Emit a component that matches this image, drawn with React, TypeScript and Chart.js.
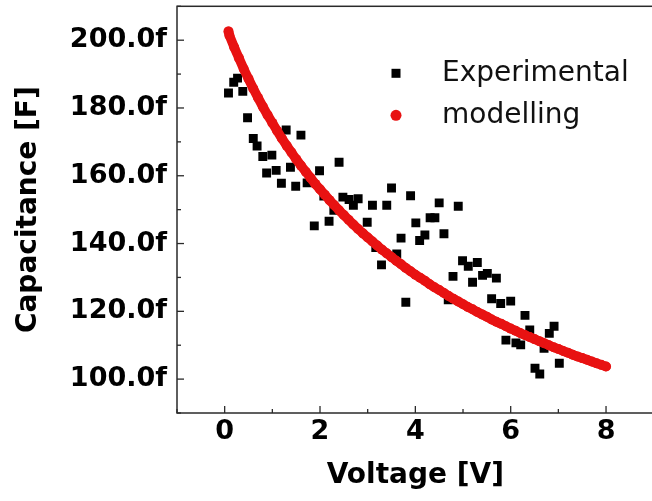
import React, { useEffect, useRef } from "react";
import { Chart, registerables } from "chart.js";

Chart.register(...registerables);

// Experimental data (Voltage [V], Capacitance [fF])
const expVoltage = [
  0.08, 0.19, 0.27, 0.38, 0.48, 0.6, 0.68, 0.8, 0.99, 0.88, 1.08, 1.19, 1.29, 1.38, 1.49, 1.6, 1.73,
  1.99, 1.88, 2.08, 2.19, 2.4, 2.48, 2.61, 2.7, 2.8, 2.29, 2.99, 3.1, 3.4, 3.5, 3.17, 3.29, 3.61,
  3.7, 3.8, 3.9, 4.01, 4.09, 4.2, 4.31, 4.41, 4.5, 4.6, 4.69, 4.79, 4.9, 4.99, 5.11, 5.3, 5.2, 5.41,
  5.51, 5.7, 5.6, 5.79, 6.0, 5.9, 6.11, 6.21, 6.3, 6.4, 6.51, 6.61, 6.7, 6.81, 6.91, 7.02,
];
const expCapacitance = [
  184.4, 187.6, 188.8, 184.9, 177.1, 171.0, 168.8, 165.7, 166.1, 160.8, 161.6, 157.8, 173.5, 162.5,
  156.9, 172.0, 157.9, 161.5, 145.2, 154.0, 146.6, 164.0, 153.7, 153.0, 151.3, 153.2, 149.8, 146.3,
  151.3, 151.3, 156.4, 138.8, 133.7, 136.9, 141.6, 122.7, 154.1, 146.1, 140.9, 142.5, 147.6, 147.6,
  152.0, 142.9, 123.4, 130.3, 151.0, 134.9, 133.3, 134.4, 128.6, 130.6, 131.2, 129.8, 123.7, 122.3,
  123.0, 111.5, 110.7, 110.1, 118.8, 114.5, 103.2, 101.5, 109.1, 113.5, 115.6, 104.7,
];

// Modelling curve
const modVoltage = [
  0.08, 0.1, 0.2, 0.3, 0.4, 0.5, 0.6, 0.7, 0.8, 0.9, 1.0, 1.1, 1.2, 1.3, 1.4, 1.5, 1.6, 1.7, 1.8, 1.9, 2.0,
  2.1, 2.2, 2.3, 2.4, 2.5, 2.6, 2.7, 2.8, 2.9, 3.0, 3.1, 3.2, 3.3, 3.4, 3.5, 3.6, 3.7, 3.8, 3.9, 4.0,
  4.1, 4.2, 4.3, 4.4, 4.5, 4.6, 4.7, 4.8, 4.9, 5.0, 5.1, 5.2, 5.3, 5.4, 5.5, 5.6, 5.7, 5.8, 5.9, 6.0,
  6.1, 6.2, 6.3, 6.4, 6.5, 6.6, 6.7, 6.8, 6.9, 7.0, 7.1, 7.2, 7.3, 7.4, 7.5, 7.6, 7.7, 7.8, 7.9, 8.0,
];
const modCapacitance = [
  202.6, 201.4, 197.9, 194.7, 191.5, 188.6, 185.7, 183.0, 180.4, 177.9, 175.6, 173.3, 171.0, 168.9, 166.9,
  164.9, 163.0, 161.2, 159.4, 157.6, 156.0, 154.4, 152.8, 151.3, 149.8, 148.4, 147.0, 145.6, 144.3,
  143.0, 141.8, 140.6, 139.4, 138.2, 137.1, 136.0, 134.9, 133.9, 132.8, 131.8, 130.8, 129.9, 129.0,
  128.0, 127.1, 126.3, 125.4, 124.5, 123.7, 122.9, 122.1, 121.3, 120.6, 119.8, 119.1, 118.4, 117.6,
  116.9, 116.3, 115.6, 114.9, 114.3, 113.6, 113.0, 112.4, 111.8, 111.2, 110.6, 110.0, 109.4, 108.9,
  108.3, 107.8, 107.2, 106.7, 106.2, 105.7, 105.2, 104.7, 104.2, 103.7,
];

const xMin = -1;
const xMax = 9;
const yMin = 90;
const yMax = 210;

const seriesLabels = ["Experimental", "modelling"];

const RED = "rgb(232,18,18)";
const AXIS = "#2a2a2a";

const framePlugin = {
  id: "frame",
  afterDatasetsDraw(chart: any) {
    const { ctx, chartArea, scales } = chart;
    const { left, right, top, bottom } = chartArea;
    ctx.save();
    ctx.strokeStyle = AXIS;
    ctx.lineWidth = 1.5;
    ctx.strokeRect(left, top, right - left, bottom - top);
    // inward ticks
    ctx.lineWidth = 1.3;
    const xs = scales.x;
    xs.ticks.forEach((t: any) => {
      const px = xs.getPixelForValue(t.value);
      const len = t.value % 2 === 0 ? 7 : 4;
      ctx.beginPath();
      ctx.moveTo(px, bottom);
      ctx.lineTo(px, bottom - len);
      ctx.stroke();
    });
    const ys = scales.y;
    ys.ticks.forEach((t: any) => {
      const py = ys.getPixelForValue(t.value);
      const len = t.value % 20 === 0 ? 7 : 4;
      ctx.beginPath();
      ctx.moveTo(left, py);
      ctx.lineTo(left + len, py);
      ctx.stroke();
    });
    // legend
    const lx = left + 219;
    const ly1 = top + 67;
    const ly2 = top + 109;
    ctx.fillStyle = "#000";
    ctx.fillRect(lx - 4.5, ly1 - 4.5, 9, 9);
    ctx.fillStyle = RED;
    ctx.beginPath();
    ctx.arc(lx, ly2, 5.5, 0, Math.PI * 2);
    ctx.fill();
    ctx.fillStyle = "#111";
    ctx.font = "28px 'DejaVu Sans'";
    ctx.textBaseline = "middle";
    ctx.textAlign = "left";
    const ds = chart.data.datasets;
    ctx.fillText(ds[0].label, lx + 46, ly1);
    ctx.fillText(ds[1].label, lx + 46, ly2);
    ctx.restore();
  },
};

export default function App() {
  const ref = useRef<HTMLCanvasElement | null>(null);

  useEffect(() => {
    if (!ref.current) return;
    const tickFont = { family: "'DejaVu Sans'", size: 27, weight: "bold" as const };
    const titleFont = { family: "'DejaVu Sans'", size: 28, weight: "bold" as const };
    const chart = new Chart(ref.current, {
      type: "scatter",
      data: {
        datasets: [
          {
            label: seriesLabels[0],
            data: expVoltage.map((v, i) => ({ x: v, y: expCapacitance[i] })),
            pointStyle: "rect",
            pointRadius: 6.3,
            backgroundColor: "#000",
            borderColor: "#000",
            borderWidth: 0,
            order: 2,
          },
          {
            label: seriesLabels[1],
            data: modVoltage.map((v, i) => ({ x: v, y: modCapacitance[i] })),
            showLine: true,
            borderWidth: 9.5,
            borderCapStyle: "round",
            borderJoinStyle: "round",
            pointStyle: "circle",
            pointRadius: 5,
            pointBorderWidth: 0,
            backgroundColor: RED,
            borderColor: RED,
            order: 1,
          },
        ],
      },
      options: {
        responsive: false,
        animation: false,
        devicePixelRatio: 1,
        layout: { padding: { left: 0, top: 4, right: 6, bottom: 0 } },
        plugins: {
          legend: { display: false },
          tooltip: { enabled: false },
        },
        scales: {
          x: {
            type: "linear",
            min: xMin,
            max: xMax,
            grid: { display: false, drawTicks: false },
            border: { display: false },
            ticks: {
              stepSize: 1,
              autoSkip: false,
              maxRotation: 0,
              padding: 3,
              color: "#000",
              font: tickFont,
              callback: (v: any) => (v % 2 === 0 && v >= 0 && v <= 8 ? String(v) : ""),
            },
            title: {
              display: true,
              text: "Voltage [V]",
              color: "#000",
              font: titleFont,
              padding: { top: 0, bottom: 8 },
            },
            afterFit: (s: any) => {
              s.height = 88;
              s.paddingLeft = 0;
              s.paddingRight = 0;
            },
          },
          y: {
            type: "linear",
            min: yMin,
            max: yMax,
            grid: { display: false, drawTicks: false },
            border: { display: false },
            ticks: {
              stepSize: 10,
              autoSkip: false,
              padding: 10,
              color: "#000",
              font: tickFont,
              callback: (v: any) => (v % 20 === 0 ? v.toFixed(1) + "f" : ""),
            },
            title: {
              display: true,
              text: "Capacitance [F]",
              color: "#000",
              font: titleFont,
              padding: { top: 12, bottom: 0 },
            },
            afterFit: (s: any) => {
              s.width = 177;
              s.paddingTop = 0;
              s.paddingBottom = 0;
            },
          },
        },
      },
      plugins: [framePlugin],
    });
    return () => chart.destroy();
  }, []);

  return (
    <div
      style={{
        position: "fixed",
        left: 0,
        top: 0,
        width: 652,
        height: 501,
        overflow: "hidden",
        background: "#fff",
      }}
    >
      <canvas ref={ref} width={660} height={501} style={{ display: "block", width: 660, height: 501 }} />
    </div>
  );
}
